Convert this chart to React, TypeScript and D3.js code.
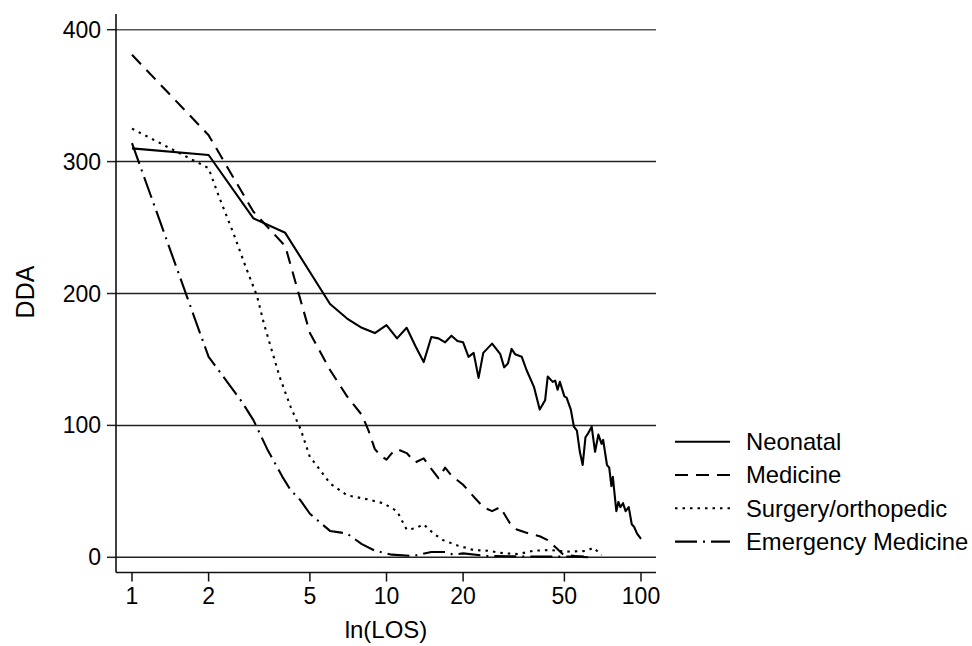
import * as d3 from 'd3';
import React from 'react';

// length of stay (days) vs DDA
const neonatal: [number, number][] = [
  [1, 310], [2, 305], [3, 257], [4, 246], [6, 192], [7, 181], [8, 174], [9, 170], [10, 176],
  [11, 166], [12, 174], [13, 160], [14, 148], [15, 167], [16, 166], [17, 163], [18, 168],
  [19, 164], [20, 163], [21, 152], [22, 155], [23, 136], [24, 155], [26, 162], [28, 154],
  [29, 144], [30, 147], [31, 158], [32, 154], [34, 152], [35.5, 142], [38, 129], [40, 112],
  [42, 119], [43, 137], [45, 133], [46, 134], [47, 127], [48, 133], [50, 122], [51, 121],
  [53, 112], [54.5, 99], [56, 96], [57.5, 80], [59, 70], [60.5, 91], [62, 94], [64, 99],
  [66, 80], [68, 93], [70, 86], [71, 89], [73.5, 70], [75, 68], [76.5, 54], [77.5, 61],
  [80, 35], [81.5, 42], [83, 38], [85, 41], [87, 35], [89.5, 38], [92, 25], [94, 23],
  [96.5, 18], [100, 14],
];
const medicine: [number, number][] = [
  [1, 381], [2, 320], [3, 262], [4, 236], [5, 170], [6, 142], [7, 122], [8, 108], [8.5, 96],
  [9, 82], [9.5, 77], [10, 74], [10.5, 79], [11, 82], [12, 79], [13, 72], [14, 75], [15, 67],
  [16, 60], [17, 68], [18, 62], [20, 55], [22, 46], [24, 38], [26, 35], [28, 38], [29, 33],
  [30.5, 26], [32.5, 21], [35, 19], [38, 17], [40, 16], [43, 13], [46.5, 7], [49.5, 2],
  [55, 1], [62, 0.5],
];
const surgery: [number, number][] = [
  [1, 325], [2, 295], [2.2, 273], [2.5, 246], [2.8, 220], [3.1, 198], [3.3, 177], [3.8, 137],
  [4.2, 114], [4.6, 97], [5, 76], [5.2, 72], [6, 56], [7, 47], [8.4, 44], [9.7, 41], [11, 35],
  [12, 21], [13, 22], [14, 25], [15.3, 18], [16.7, 13], [19, 9], [22, 5.5], [25, 5], [29, 3],
  [33, 2.5], [38, 5], [44, 5.5], [51, 4.3], [61, 4.8], [65, 7.3], [70, 1.7],
];
const emergency: [number, number][] = [
  [1, 314], [1.85, 170], [2, 152], [2.7, 118], [3, 104], [3.4, 82], [3.9, 61], [4.2, 51],
  [4.6, 43], [5, 33], [6, 20], [7, 18], [8, 10], [9, 5], [10.5, 2], [12.7, 1], [15, 4],
  [17, 4], [18.3, 2], [20, 3], [25, 1], [40, 0.5], [55, 0.5], [62, 0],
];

const seriesNames = ['Neonatal', 'Medicine', 'Surgery/orthopedic', 'Emergency Medicine'];
const seriesData = [neonatal, medicine, surgery, emergency];
const dashes = ['none', '13,8', '2.5,5', '22,6,2,6'];

const xTicks = [1, 2, 5, 10, 20, 50, 100];
const yTicks = [0, 100, 200, 300, 400];

const FONT = '"Liberation Sans", Arial, Helvetica, sans-serif';

export default function App() {
  const x = d3.scaleLog().domain([1, 100]).range([132, 641]);
  const y = d3.scaleLinear().domain([0, 400]).range([557.3, 29.7]);
  const left = 116, right = 656, bottom = 572.5, top = 14;

  const line = d3.line<[number, number]>()
    .x(d => x(d[0]))
    .y(d => y(d[1]));

  return (
    <svg width={972} height={646} style={{ position: 'absolute', left: 0, top: 0, background: '#fff' }}
      fontFamily={FONT}>
      {/* gridlines + y ticks */}
      {yTicks.map(t => (
        <g key={t}>
          <line x1={left} x2={right} y1={y(t)} y2={y(t)} stroke={t === 400 ? '#555' : '#222'} strokeWidth={1.5} />
          <line x1={left - 9} x2={left} y1={y(t)} y2={y(t)} stroke="#222" strokeWidth={1.5} />
          <text x={left - 15} y={y(t)} dy="0.35em" textAnchor="end" fontSize={23}>{t}</text>
        </g>
      ))}
      {/* axes */}
      <line x1={left} x2={left} y1={top} y2={bottom} stroke="#111" strokeWidth={1.6} />
      <line x1={left} x2={right} y1={bottom} y2={bottom} stroke="#111" strokeWidth={1.6} />
      {xTicks.map(t => (
        <g key={t}>
          <line x1={x(t)} x2={x(t)} y1={bottom} y2={bottom + 9} stroke="#111" strokeWidth={1.5} />
          <text x={x(t)} y={604} textAnchor="middle" fontSize={23}>{t}</text>
        </g>
      ))}
      <text x={(left + right) / 2} y={638} textAnchor="middle" fontSize={24}>ln(LOS)</text>
      <text transform={`translate(34,292) rotate(-90)`} textAnchor="middle" fontSize={25}>DDA</text>

      {/* series */}
      {seriesData.map((d, i) => (
        <path key={i} d={line(d) || ''} fill="none" stroke="#000" strokeWidth={2.1}
          strokeDasharray={dashes[i]} strokeLinejoin="round" />
      ))}

      {/* legend */}
      {seriesNames.map((n, i) => {
        const cy = 441.7 + i * 33.3;
        return (
          <g key={n}>
            <line x1={675} x2={730} y1={cy} y2={cy} stroke="#000" strokeWidth={2.1} strokeDasharray={dashes[i]} />
            <text x={746} y={cy} dy="0.35em" fontSize={23.8}>{n}</text>
          </g>
        );
      })}
    </svg>
  );
}
